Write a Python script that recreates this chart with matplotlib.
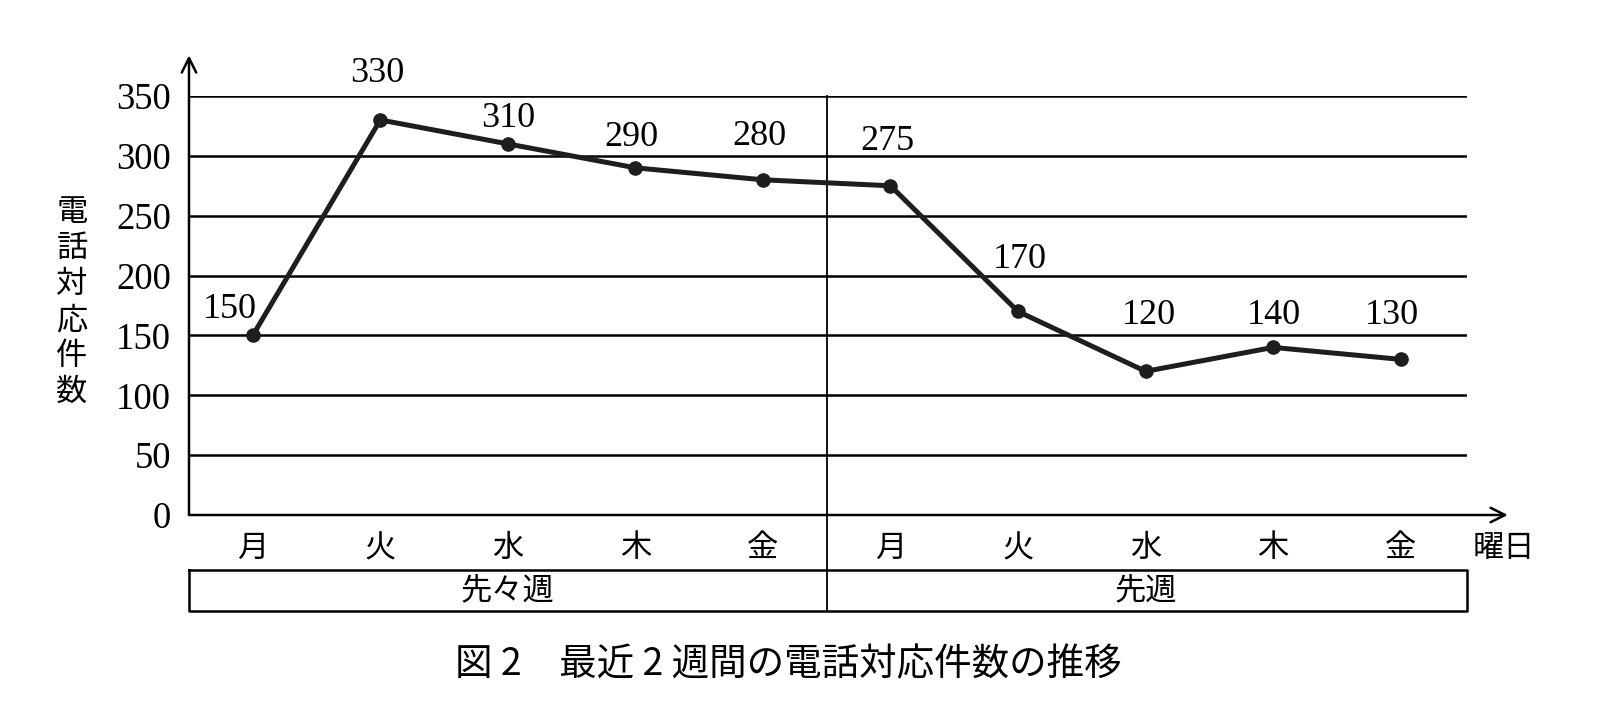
import matplotlib
matplotlib.use("Agg")
import matplotlib.pyplot as plt

# data
days = ["月", "火", "水", "木", "金", "月", "火", "水", "木", "金"]
calls = [150, 330, 310, 290, 280, 275, 170, 120, 140, 130]
weeks = ["先々週", "先週"]
y_ticks = [0, 50, 100, 150, 200, 250, 300, 350]

# label offsets in pixels (matches the hand placement in the original)
lab_dx = [-23, -3, 0, -4, -4, -3, 2, 3, 1, -9]
lab_dy = [26, 46, 25, 30, 43, 44, 52, 56, 32, 44]

jp = ["Noto Sans CJK JP", "DejaVu Sans"]
num = "Liberation Serif"
W, H = 1604, 716

fig = plt.figure(figsize=(W / 100, H / 100), dpi=100)
ax = fig.add_axes([189 / W, 201 / H, 1278 / W, 419 / H])
ax.set_xlim(-0.5, 9.52)
ax.set_ylim(0, 350)
for s in ax.spines.values():
    s.set_visible(False)
ax.set_xticks([])
ax.set_yticks(y_ticks)
ax.set_yticklabels([str(v) for v in y_ticks], fontfamily=num, fontsize=26.5)
ax.tick_params(axis="y", length=0, pad=13)

lw = 1.8
for v in y_ticks[1:]:
    ax.plot([-0.5, 9.52], [v, v], color="black", lw=lw, zorder=1)

# axis arrows
arrow = dict(arrowstyle="->", lw=lw, color="black", mutation_scale=26,
             shrinkA=0, shrinkB=0)
ax.annotate("", xy=(-0.5, 384), xytext=(-0.5, 0), arrowprops=arrow,
            annotation_clip=False)
ax.annotate("", xy=(9.84, 0), xytext=(-0.5, 0), arrowprops=arrow,
            annotation_clip=False)

# week divider and week box
box_top, box_bot = -46, -80
ax.plot([4.5, 4.5], [350, box_bot], color="black", lw=1.3, clip_on=False)
ax.plot([-0.5, 9.52, 9.52, -0.5, -0.5], [box_top, box_top, box_bot, box_bot, box_top],
        color="black", lw=lw, clip_on=False)
ax.text(2.0, (box_top + box_bot) / 2, weeks[0], ha="center", va="center",
        fontfamily=jp, fontsize=22.5)
ax.text(7.0, (box_top + box_bot) / 2, weeks[1], ha="center", va="center",
        fontfamily=jp, fontsize=22.5)

x = list(range(len(days)))
for i, d in enumerate(days):
    ax.text(i, -27.6, d, ha="center", va="center", fontfamily=jp, fontsize=22.5)
ax.text(9.56, -27.6, "曜日", ha="left", va="center", fontfamily=jp, fontsize=22.5)

ax.plot(x, calls, color="#1e1e1e", lw=3.6, marker="o", markersize=9.5, zorder=3,
        clip_on=False)

for i, v in enumerate(calls):
    ax.annotate(str(v), (i, v), xytext=(lab_dx[i] * 0.72, lab_dy[i] * 0.72),
                textcoords="offset points", ha="center", va="center",
                fontfamily=num, fontsize=26, annotation_clip=False)

fig.text(72 / W, 1 - 302 / H, "電\n話\n対\n応\n件\n数", ha="center", va="center",
         fontfamily=jp, fontsize=22.5, linespacing=1.16)

fig.text(788 / W, 1 - 665 / H, "図 2　最近 2 週間の電話対応件数の推移",
         ha="center", va="center", fontfamily=jp, fontsize=27)

fig.savefig("out.png", dpi=100)
